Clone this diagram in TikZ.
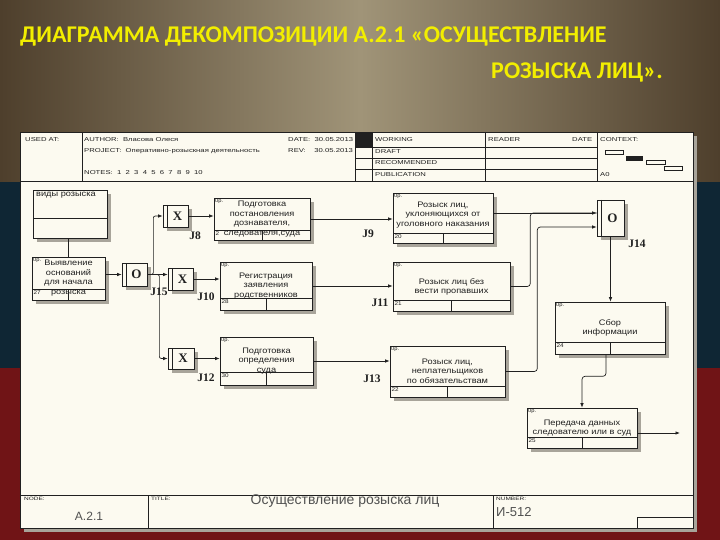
\documentclass[tikz,border=0pt]{standalone}
\usepackage{fontspec}
\setmainfont{Liberation Sans}
\newfontfamily\titlefont{Carlito}
\newfontfamily\boxfont[FakeStretch=1.15]{Liberation Sans}
\newfontfamily\headfont[FakeStretch=1.35]{Liberation Sans}
\newfontfamily\jfont{Liberation Serif}
\usetikzlibrary{arrows.meta,calc,fit}
\definecolor{paper}{HTML}{FCFAF0}
\definecolor{ink}{HTML}{202020}
\definecolor{shadowc}{HTML}{A8A49A}
\definecolor{titley}{HTML}{F2EE00}
\definecolor{navy}{HTML}{0F2634}
\definecolor{flagred}{HTML}{701416}
\definecolor{brownA}{HTML}{4E3F2C}
\definecolor{brownB}{HTML}{A09478}
\definecolor{greytxt}{HTML}{505050}

\newcommand{\ProcBox}[9]{% name,x1,y1,x2,y2,rowy,textcy,text,num
  \fill[shadowc] (#2+4,#3+4) rectangle (#4+4,#5+4);
  \node[procbox, fit={(#2,#3) (#4,#5)}] (#1) {};
  \draw[thinline] (#2,#6) -- (#4,#6) ({(#2+#4)/2},#6) -- ({(#2+#4)/2},#5);
  \node[optext] (#1o) at (#2+1,#3+1) {0р.};
  \node[numtext] (#1n) at (#2+1,#6+0.5) {#9};
  \node[boxtext] (#1t) at ({(#2+#4)/2},#7) {#8};
}
\newcommand{\Junc}[6]{% name,x1,y1,x2,y2,letter
  \fill[shadowc] (#2+4,#3+4) rectangle (#4+4,#5+4);
  \node[juncbox, fit={(#2,#3) (#4,#5)}] (#1) {};
  \draw[thinline] (#2+4,#3) -- (#2+4,#5);
  \node[jletter] (#1l) at ({(#2+4+#4)/2},{(#3+#5)/2}) {#6};
}

\begin{document}
\begin{tikzpicture}[x=1pt,y=-1pt,
  procbox/.style={draw=ink, fill=paper, line width=0.6pt, inner sep=0pt},
  juncbox/.style={draw=ink, fill=paper, line width=0.7pt, inner sep=0pt},
  thinline/.style={draw=ink, line width=0.5pt},
  optext/.style={anchor=north west, inner sep=0pt, font=\boxfont\fontsize{5}{5}\selectfont, text=ink},
  numtext/.style={anchor=north west, inner sep=0.5pt, font=\boxfont\fontsize{5.5}{6}\selectfont, text=ink},
  boxtext/.style={align=center, inner sep=0pt, font=\boxfont\fontsize{8}{9.5}\selectfont, text=ink},
  jletter/.style={inner sep=0pt, font=\jfont\bfseries\fontsize{13}{13}\selectfont, text=ink},
  jlabel/.style={inner sep=0pt, font=\jfont\bfseries\fontsize{11.5}{12}\selectfont, text=ink},
  hdr/.style={anchor=west, inner sep=0pt, font=\headfont\fontsize{5.7}{6}\selectfont, text=ink},
  titletext/.style={inner sep=0pt, font=\titlefont\bfseries\fontsize{24}{26}\selectfont, text=titley},
  line/.style={draw=ink, line width=0.7pt},
  arr/.style={line, -{Latex[length=4.5pt,width=3.5pt]}}]
\useasboundingbox (0,0) rectangle (720,540);
% background
\fill[flagred] (0,0) rectangle (720,540);
\fill[navy] (0,0) rectangle (720,368);
\shade[left color=brownA, right color=brownA, middle color=brownB] (0,0) rectangle (720,182);
% title
\node[titletext, anchor=base west] (t1) at (20,43) {ДИАГРАММА ДЕКОМПОЗИЦИИ А.2.1 «ОСУЩЕСТВЛЕНИЕ};
\node[titletext, anchor=base east] (t2) at (663,79) {РОЗЫСКА ЛИЦ».};
% frame
\fill[shadowc] (24,136) rectangle (697,532);
\fill[paper] (20,132) rectangle (693,528);
\draw[ink, line width=0.8pt] (20,132) rectangle (693,528);
% header
\draw[thinline] (20,181) -- (693,181);
\draw[thinline] (82,132) -- (82,181) (355,132) -- (355,181) (372,132) -- (372,181)
  (485,132) -- (485,181) (597,132) -- (597,181);
\fill[ink] (355,132) rectangle (372,147);
\draw[thinline] (355,147) -- (597,147) (355,158) -- (597,158) (355,169) -- (597,169);
\node[hdr] (h1) at (25,140) {USED AT:};
\node[hdr] (h2) at (84,140) {AUTHOR:\ \ Власова Олеся};
\node[hdr] (h3) at (84,151) {PROJECT:\ \ Оперативно-розыскная деятельность};
\node[hdr] (h4) at (84,173) {NOTES:\ \ 1\ \ 2\ \ 3\ \ 4\ \ 5\ \ 6\ \ 7\ \ 8\ \ 9\ \ 10};
\node[hdr] (h5) at (288,140) {DATE:\ \ 30.05.2013};
\node[hdr] (h6) at (288,151) {REV:\ \ \ \ 30.05.2013};
\node[hdr] (h7) at (375,140) {WORKING};
\node[hdr] (h8) at (375,152) {DRAFT};
\node[hdr] (h9) at (375,163) {RECOMMENDED};
\node[hdr] (h10) at (375,175) {PUBLICATION};
\node[hdr] (h11) at (488,140) {READER};
\node[hdr] (h12) at (572,140) {DATE};
\node[hdr] (h13) at (600,140) {CONTEXT:};
\node[hdr] (h14) at (600,175) {A0};
\draw[thinline, fill=paper] (605,150) rectangle (623,154);
\fill[ink] (626,156) rectangle (643,161);
\draw[thinline, fill=paper] (646,160) rectangle (665,164);
\draw[thinline, fill=paper] (664,166) rectangle (682,170);
% footer
\draw[thinline] (20,495) -- (693,495) (148,495) -- (148,528) (493,495) -- (493,528);
\draw[thinline] (637,517) rectangle (693,528);
\node[hdr, font=\headfont\fontsize{4.8}{5}\selectfont] (f1) at (24,499) {NODE:};
\node[hdr, font=\headfont\fontsize{4.8}{5}\selectfont] (f2) at (151,499) {TITLE:};
\node[hdr, font=\headfont\fontsize{4.8}{5}\selectfont] (f3) at (496,499) {NUMBER:};
\node[inner sep=0pt, font=\fontsize{12}{12}\selectfont, text=greytxt] (f4) at (89,516) {A.2.1};
\node[inner sep=0pt, font=\fontsize{14}{14}\selectfont, text=greytxt] (f5) at (345,501) {Осуществление розыска лиц};
\node[anchor=west, inner sep=0pt, font=\fontsize{13}{13}\selectfont, text=greytxt] (f6) at (496,512) {И-512};
% boxes
\fill[shadowc] (37,194) rectangle (111,242);
\node[procbox, fit={(33,190) (107,238)}] (vid) {};
\draw[thinline] (33,218) -- (107,218);
\node[boxtext, anchor=north west] (vidt) at (36,192) {виды розыска};
\ProcBox{p27}{32}{257}{105}{300}{289}{278}{Выявление\\оснований\\для начала\\розыска}{27}
\ProcBox{p29}{214}{198}{310}{240}{230}{219}{Подготовка\\постановления\\дознавателя,\\следователя,суда}{2}
\ProcBox{p28}{220}{262}{312}{310}{298}{286}{Регистрация\\заявления\\родственников}{28}
\ProcBox{p30}{220}{337}{313}{385}{372}{361}{Подготовка\\определения\\суда}{30}
\ProcBox{p20}{393}{193}{493}{243}{233}{215}{Розыск лиц,\\уклоняющихся от\\уголовного наказания}{20}
\ProcBox{p21}{393}{262}{510}{311}{300}{287}{Розыск лиц без\\вести пропавших}{21}
\ProcBox{p22}{390}{346}{505}{397}{386}{371}{Розыск лиц,\\неплательщиков\\по обязательствам}{22}
\ProcBox{p24}{555}{302}{665}{354}{342}{328}{Сбор\\информации}{24}
\ProcBox{p25}{527}{408}{637}{448}{437}{428}{Передача данных\\следователю или в суд}{25}
% junctions
\Junc{j8}{163}{205}{188}{227}{X}
\Junc{j10}{168}{268}{193}{290}{X}
\Junc{j12}{168}{348}{194}{369}{X}
\Junc{j15}{122}{263}{147}{286}{O}
\Junc{j14}{597}{200}{624}{236}{O}
\node[jlabel] (l8) at (195,236) {J8};
\node[jlabel] (l9) at (368,234) {J9};
\node[jlabel] (l10) at (206,297) {J10};
\node[jlabel] (l11) at (380,303) {J11};
\node[jlabel] (l12) at (206,378) {J12};
\node[jlabel] (l13) at (372,379) {J13};
\node[jlabel] (l14) at (637,244) {J14};
\node[jlabel] (l15) at (159,292) {J15};
% connectors
\draw[line] (p27.north |- vid.south) -- (p27.north);
\draw[arr] (p27.east |- j15.west) -- (j15.west);
\draw[arr, rounded corners=2pt] (j15.east) -- ++(6,0) |- (j8.west);
\draw[arr] (j15.east) -- (j15.east -| j10.west);
\draw[arr, rounded corners=2pt] (j15.east) -- ++(12,0) |- (j12.west);
\draw[arr] (j8.east) -- (j8.east -| p29.west);
\draw[arr] (j10.east) -- (j10.east -| p28.west);
\draw[arr] (j12.east) -- (j12.east -| p30.west);
\draw[arr] (p29.east) -- (p29.east -| p20.west);
\draw[arr] (p28.east) -- (p28.east -| p21.west);
\draw[arr] (p30.east) -- (p30.east -| p22.west);
\coordinate (in1) at ($(j14.west)+(0,-5)$);
\coordinate (in2) at ($(j14.west)+(0,9)$);
\draw[arr] (in1 -| p20.east) -- (in1);
\draw[line, rounded corners=3pt] (p21.east) -- ++(20,0) |- (in1);
\draw[arr, rounded corners=3pt] (p22.east) -- ++(32,0) |- (in2);
\draw[arr] (j14.south) -- (j14.south |- p24.north);
\draw[arr, rounded corners=3pt] ($(p24.south)+(-4,0)$) -- ++(0,22) -| (p25.north);
\coordinate (out) at (680,433);
\draw[arr] (out -| p25.east) -- (out);
\end{tikzpicture}
\end{document}
